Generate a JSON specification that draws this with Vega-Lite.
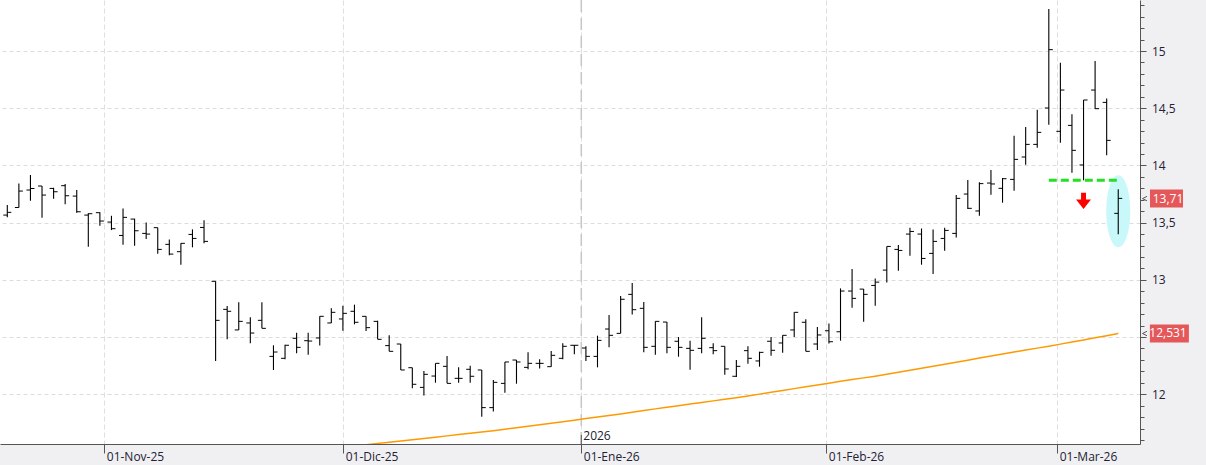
{
  "$schema": "https://vega.github.io/schema/vega-lite/v6.json",
  "width": 1140,
  "height": 444,
  "autosize": "none",
  "padding": {"left": 0, "top": 0, "right": 66, "bottom": 21},
  "background": "#f0f0f2",
  "config": {"view": {"stroke": null, "fill": "#ffffff"}, "font": "Open Sans"},
  "resolve": {"axis": {"y": "independent"}},
  "datasets": {
    "bars": [
      {"i":0,"open":13.566,"high":13.654,"low":13.546,"close":13.590},
      {"i":1,"open":13.633,"high":13.843,"low":13.633,"close":13.776},
      {"i":2,"open":13.785,"high":13.916,"low":13.692,"close":13.799},
      {"i":3,"open":13.820,"high":13.820,"low":13.543,"close":13.741},
      {"i":4,"open":13.799,"high":13.805,"low":13.709,"close":13.770},
      {"i":5,"open":13.823,"high":13.837,"low":13.660,"close":13.735},
      {"i":6,"open":13.732,"high":13.785,"low":13.587,"close":13.595},
      {"i":7,"open":13.566,"high":13.581,"low":13.289,"close":13.578},
      {"i":8,"open":13.587,"high":13.590,"low":13.473,"close":13.514},
      {"i":9,"open":13.505,"high":13.560,"low":13.435,"close":13.447},
      {"i":10,"open":13.388,"high":13.624,"low":13.307,"close":13.546},
      {"i":11,"open":13.531,"high":13.534,"low":13.298,"close":13.429},
      {"i":12,"open":13.406,"high":13.502,"low":13.356,"close":13.400},
      {"i":13,"open":13.456,"high":13.456,"low":13.228,"close":13.266},
      {"i":14,"open":13.310,"high":13.353,"low":13.214,"close":13.225},
      {"i":15,"open":13.246,"high":13.319,"low":13.132,"close":13.319},
      {"i":16,"open":13.397,"high":13.441,"low":13.284,"close":13.362},
      {"i":17,"open":13.458,"high":13.520,"low":13.319,"close":13.336},
      {"i":18,"open":12.987,"high":12.987,"low":12.291,"close":12.646},
      {"i":19,"open":12.742,"high":12.771,"low":12.480,"close":12.725},
      {"i":20,"open":12.562,"high":12.803,"low":12.562,"close":12.637},
      {"i":21,"open":12.623,"high":12.672,"low":12.445,"close":12.535},
      {"i":22,"open":12.646,"high":12.803,"low":12.576,"close":12.576},
      {"i":23,"open":12.331,"high":12.428,"low":12.212,"close":12.369},
      {"i":24,"open":12.314,"high":12.433,"low":12.305,"close":12.428},
      {"i":25,"open":12.489,"high":12.538,"low":12.358,"close":12.410},
      {"i":26,"open":12.468,"high":12.538,"low":12.346,"close":12.465},
      {"i":27,"open":12.492,"high":12.681,"low":12.425,"close":12.681},
      {"i":28,"open":12.623,"high":12.751,"low":12.623,"close":12.716},
      {"i":29,"open":12.658,"high":12.774,"low":12.556,"close":12.707},
      {"i":30,"open":12.725,"high":12.783,"low":12.611,"close":12.629},
      {"i":31,"open":12.681,"high":12.681,"low":12.553,"close":12.582},
      {"i":32,"open":12.637,"high":12.643,"low":12.480,"close":12.480},
      {"i":33,"open":12.425,"high":12.515,"low":12.375,"close":12.375},
      {"i":34,"open":12.439,"high":12.439,"low":12.212,"close":12.212},
      {"i":35,"open":12.232,"high":12.232,"low":12.052,"close":12.087},
      {"i":36,"open":12.060,"high":12.203,"low":11.990,"close":12.174},
      {"i":37,"open":12.159,"high":12.270,"low":12.101,"close":12.270},
      {"i":38,"open":12.244,"high":12.334,"low":12.095,"close":12.095},
      {"i":39,"open":12.139,"high":12.235,"low":12.101,"close":12.139},
      {"i":40,"open":12.218,"high":12.250,"low":12.101,"close":12.157},
      {"i":41,"open":12.212,"high":12.212,"low":11.804,"close":11.883},
      {"i":42,"open":11.883,"high":12.124,"low":11.848,"close":12.104},
      {"i":43,"open":12.095,"high":12.282,"low":12.014,"close":12.282},
      {"i":44,"open":12.299,"high":12.299,"low":12.092,"close":12.282},
      {"i":45,"open":12.235,"high":12.366,"low":12.218,"close":12.270},
      {"i":46,"open":12.270,"high":12.305,"low":12.224,"close":12.270},
      {"i":47,"open":12.241,"high":12.378,"low":12.241,"close":12.340},
      {"i":48,"open":12.314,"high":12.445,"low":12.305,"close":12.419},
      {"i":49,"open":12.428,"high":12.430,"low":12.349,"close":12.428},
      {"i":50,"open":12.404,"high":12.419,"low":12.291,"close":12.331},
      {"i":51,"open":12.331,"high":12.512,"low":12.235,"close":12.471},
      {"i":52,"open":12.570,"high":12.693,"low":12.410,"close":12.515},
      {"i":53,"open":12.532,"high":12.859,"low":12.532,"close":12.830},
      {"i":54,"open":12.873,"high":12.972,"low":12.698,"close":12.739},
      {"i":55,"open":12.751,"high":12.806,"low":12.366,"close":12.410},
      {"i":56,"open":12.419,"high":12.637,"low":12.346,"close":12.637},
      {"i":57,"open":12.631,"high":12.631,"low":12.358,"close":12.410},
      {"i":58,"open":12.463,"high":12.500,"low":12.328,"close":12.410},
      {"i":59,"open":12.401,"high":12.468,"low":12.215,"close":12.384},
      {"i":60,"open":12.401,"high":12.672,"low":12.358,"close":12.489},
      {"i":61,"open":12.407,"high":12.445,"low":12.349,"close":12.381},
      {"i":62,"open":12.419,"high":12.419,"low":12.171,"close":12.221},
      {"i":63,"open":12.157,"high":12.299,"low":12.151,"close":12.244},
      {"i":64,"open":12.381,"high":12.419,"low":12.267,"close":12.314},
      {"i":65,"open":12.291,"high":12.372,"low":12.241,"close":12.366},
      {"i":66,"open":12.463,"high":12.500,"low":12.337,"close":12.384},
      {"i":67,"open":12.448,"high":12.515,"low":12.363,"close":12.515},
      {"i":68,"open":12.562,"high":12.716,"low":12.500,"close":12.716},
      {"i":69,"open":12.629,"high":12.655,"low":12.375,"close":12.375},
      {"i":70,"open":12.439,"high":12.588,"low":12.387,"close":12.518},
      {"i":71,"open":12.555,"high":12.619,"low":12.444,"close":12.459},
      {"i":72,"open":12.546,"high":12.925,"low":12.468,"close":12.902},
      {"i":73,"open":12.902,"high":13.094,"low":12.756,"close":12.838},
      {"i":74,"open":12.919,"high":12.919,"low":12.634,"close":12.873},
      {"i":75,"open":12.951,"high":13.012,"low":12.773,"close":12.980},
      {"i":76,"open":13.085,"high":13.292,"low":12.977,"close":13.292},
      {"i":77,"open":13.266,"high":13.304,"low":13.079,"close":13.257},
      {"i":78,"open":13.400,"high":13.455,"low":13.211,"close":13.423},
      {"i":79,"open":13.400,"high":13.449,"low":13.132,"close":13.187},
      {"i":80,"open":13.231,"high":13.441,"low":13.050,"close":13.336},
      {"i":81,"open":13.362,"high":13.455,"low":13.254,"close":13.432},
      {"i":82,"open":13.406,"high":13.741,"low":13.371,"close":13.712},
      {"i":83,"open":13.750,"high":13.873,"low":13.619,"close":13.625},
      {"i":84,"open":13.602,"high":13.852,"low":13.561,"close":13.841},
      {"i":85,"open":13.846,"high":13.960,"low":13.744,"close":13.838},
      {"i":86,"open":13.800,"high":13.890,"low":13.674,"close":13.884},
      {"i":87,"open":13.878,"high":14.260,"low":13.779,"close":14.053},
      {"i":88,"open":14.074,"high":14.336,"low":14.007,"close":14.184},
      {"i":89,"open":14.184,"high":14.487,"low":14.155,"close":14.289},
      {"i":90,"open":14.502,"high":15.367,"low":14.356,"close":15.012},
      {"i":91,"open":14.298,"high":14.898,"low":14.199,"close":14.659},
      {"i":92,"open":14.350,"high":14.447,"low":13.937,"close":14.132},
      {"i":93,"open":14.004,"high":14.572,"low":13.870,"close":14.572},
      {"i":94,"open":14.659,"high":14.913,"low":14.493,"close":14.496},
      {"i":95,"open":14.551,"high":14.586,"low":14.088,"close":14.219},
      {"i":96,"open":13.581,"high":13.791,"low":13.398,"close":13.712}
    ],
    "ma": [
      {"i":30,"ma":11.549},{"i":31,"ma":11.559},{"i":32,"ma":11.570},{"i":33,"ma":11.581},
      {"i":34,"ma":11.592},{"i":35,"ma":11.603},{"i":36,"ma":11.614},{"i":37,"ma":11.625},
      {"i":38,"ma":11.636},{"i":39,"ma":11.648},{"i":40,"ma":11.659},{"i":41,"ma":11.670},
      {"i":42,"ma":11.681},{"i":43,"ma":11.694},{"i":44,"ma":11.707},{"i":45,"ma":11.720},
      {"i":46,"ma":11.734},{"i":47,"ma":11.747},{"i":48,"ma":11.760},{"i":49,"ma":11.773},
      {"i":50,"ma":11.787},{"i":51,"ma":11.800},{"i":52,"ma":11.814},{"i":53,"ma":11.828},
      {"i":54,"ma":11.843},{"i":55,"ma":11.857},{"i":56,"ma":11.872},{"i":57,"ma":11.886},
      {"i":58,"ma":11.900},{"i":59,"ma":11.914},{"i":60,"ma":11.928},{"i":61,"ma":11.942},
      {"i":62,"ma":11.956},{"i":63,"ma":11.970},{"i":64,"ma":11.985},{"i":65,"ma":12.001},
      {"i":66,"ma":12.017},{"i":67,"ma":12.033},{"i":68,"ma":12.049},{"i":69,"ma":12.065},
      {"i":70,"ma":12.081},{"i":71,"ma":12.097},{"i":72,"ma":12.113},{"i":73,"ma":12.128},
      {"i":74,"ma":12.143},{"i":75,"ma":12.158},{"i":76,"ma":12.175},{"i":77,"ma":12.192},
      {"i":78,"ma":12.210},{"i":79,"ma":12.227},{"i":80,"ma":12.244},{"i":81,"ma":12.262},
      {"i":82,"ma":12.280},{"i":83,"ma":12.298},{"i":84,"ma":12.316},{"i":85,"ma":12.334},
      {"i":86,"ma":12.352},{"i":87,"ma":12.369},{"i":88,"ma":12.386},{"i":89,"ma":12.403},
      {"i":90,"ma":12.420},{"i":91,"ma":12.438},{"i":92,"ma":12.456},{"i":93,"ma":12.475},
      {"i":94,"ma":12.494},{"i":95,"ma":12.512},{"i":96,"ma":12.531}
    ],
    "highlight": [{"i": 96, "v": 13.6}],
    "signal": [{"i": 93, "v": 13.69}],
    "level": [{"i_start": 90, "i_end": 96, "v": 13.87}],
    "tags": [{"v": 13.71, "label": "13,71"}, {"v": 12.531, "label": "12,531"}],
    "year": [{"i": 49.6, "label": "2026"}]
  },
  "layer": [
    {
      "data": {"name": "year"},
      "mark": {"type": "rule", "color": "#c6c6c6", "strokeWidth": 1.5, "strokeDash": [12, 6]},
      "encoding": {
        "x": {
          "field": "i", "type": "quantitative",
          "scale": {"domain": [-0.631, 97.88], "nice": false, "zero": false},
          "axis": {
            "orient": "bottom", "title": null,
            "values": [8.38, 29.03, 49.6, 70.77, 90.73],
            "labelExpr": "datum.value < 20 ? '01-Nov-25' : datum.value < 40 ? '01-Dic-25' : datum.value < 60 ? '01-Ene-26' : datum.value < 80 ? '01-Feb-26' : '01-Mar-26'",
            "grid": true, "gridColor": "#dedede", "gridDash": [5, 3],
            "tickSize": 9, "tickColor": "#555555", "domainColor": "#555555",
            "labelAlign": "left", "labelBaseline": "alphabetic", "labelPadding": 7.5, "labelOffset": 2,
            "labelFont": "Open Sans", "labelFontSize": 12, "labelColor": "#222233",
            "labelOverlap": false, "labelBound": false, "labelFlush": false
          }
        },
        "y": {
          "datum": 11.565, "type": "quantitative",
          "scale": {"domain": [11.565, 15.446], "nice": false, "zero": false},
          "axis": {
            "orient": "right", "title": null,
            "values": [12, 12.5, 13, 13.5, 14, 14.5, 15],
            "labelExpr": "datum.value == 12.5 ? '' : replace(format(datum.value, '~g'), '.', ',')",
            "grid": true, "gridColor": "#dcdcdc", "gridDash": [4, 3],
            "tickSize": 6, "tickColor": "#555555", "domainColor": "#555555",
            "labelAlign": "left", "labelBaseline": "middle", "labelPadding": 5.5,
            "labelFont": "Open Sans", "labelFontSize": 12, "labelColor": "#222233",
            "labelOverlap": false, "labelBound": false, "labelFlush": false
          }
        },
        "y2": {"datum": 15.446}
      }
    },
    {
      "data": {"name": "highlight"},
      "mark": {"type": "point", "shape": "M0,-1C0.1841,-1 0.3333,-0.5523 0.3333,0C0.3333,0.5523 0.1841,1 0,1C-0.1841,1 -0.3333,0.5523 -0.3333,0C-0.3333,-0.5523 -0.1841,-1 0,-1Z", "filled": true, "fill": "#c8f8fa", "opacity": 1, "size": 5184},
      "encoding": {
        "x": {"field": "i", "type": "quantitative"},
        "y": {
          "field": "v", "type": "quantitative",
          "axis": {
            "orient": "right", "title": null,
            "values": [11.6, 11.7, 11.8, 11.9, 12, 12.1, 12.2, 12.3, 12.4, 12.5, 12.6, 12.7, 12.8, 12.9, 13, 13.1, 13.2, 13.3, 13.4, 13.5, 13.6, 13.7, 13.8, 13.9, 14, 14.1, 14.2, 14.3, 14.4, 14.5, 14.6, 14.7, 14.8, 14.9, 15, 15.1, 15.2, 15.3, 15.4],
            "labels": false, "grid": false, "domain": false,
            "tickSize": 4, "tickColor": "#555555"
          }
        }
      }
    },
    {
      "data": {"name": "ma"},
      "mark": {"type": "line", "color": "#ff9900", "strokeWidth": 1.5, "clip": true},
      "encoding": {
        "x": {"field": "i", "type": "quantitative"},
        "y": {"field": "ma", "type": "quantitative", "axis": null}
      }
    },
    {
      "data": {"name": "bars"},
      "mark": {"type": "rule", "color": "#000000", "strokeWidth": 1.1},
      "encoding": {
        "x": {"field": "i", "type": "quantitative"},
        "y": {"field": "low", "type": "quantitative", "axis": null},
        "y2": {"field": "high"}
      }
    },
    {
      "data": {"name": "bars"},
      "mark": {"type": "tick", "orient": "horizontal", "color": "#000000", "size": 4, "thickness": 1, "xOffset": -2, "opacity": 1},
      "encoding": {
        "x": {"field": "i", "type": "quantitative"},
        "y": {"field": "open", "type": "quantitative", "axis": null}
      }
    },
    {
      "data": {"name": "bars"},
      "mark": {"type": "tick", "orient": "horizontal", "color": "#000000", "size": 4, "thickness": 1, "xOffset": 2, "opacity": 1},
      "encoding": {
        "x": {"field": "i", "type": "quantitative"},
        "y": {"field": "close", "type": "quantitative", "axis": null}
      }
    },
    {
      "data": {"name": "level"},
      "mark": {"type": "rule", "color": "#22e022", "strokeWidth": 3, "strokeDash": [8, 4]},
      "encoding": {
        "x": {"field": "i_start", "type": "quantitative"},
        "x2": {"field": "i_end"},
        "y": {"field": "v", "type": "quantitative", "axis": null}
      }
    },
    {
      "data": {"name": "signal"},
      "mark": {"type": "point", "shape": "M-0.3,-1L0.3,-1L0.3,-0.18L0.91,-0.18L0,1L-0.91,-0.18L-0.3,-0.18Z", "filled": true, "fill": "#ff0000", "opacity": 1, "size": 269},
      "encoding": {
        "x": {"field": "i", "type": "quantitative"},
        "y": {"field": "v", "type": "quantitative", "axis": null}
      }
    },
    {
      "data": {"name": "year"},
      "mark": {"type": "rule", "color": "#555555", "strokeWidth": 1},
      "encoding": {
        "x": {"field": "i", "type": "quantitative"},
        "y": {"datum": 11.565, "type": "quantitative", "axis": null},
        "y2": {"datum": 11.644}
      }
    },
    {
      "data": {"name": "year"},
      "mark": {"type": "text", "align": "left", "baseline": "alphabetic", "dx": 2, "dy": -4, "fontSize": 12, "font": "Open Sans", "color": "#222233"},
      "encoding": {
        "x": {"field": "i", "type": "quantitative"},
        "y": {"datum": 11.565, "type": "quantitative", "axis": null},
        "text": {"field": "label"}
      }
    },
    {
      "data": {"name": "tags"},
      "transform": [{"filter": "datum.label == '13,71'"}],
      "mark": {"type": "point", "shape": "M-1,-0.5455L1,-0.5455L1,0.5455L-1,0.5455Z", "filled": true, "fill": "#e5585a", "opacity": 1, "size": 1089, "clip": false},
      "encoding": {
        "x": {"datum": 100.17, "type": "quantitative"},
        "y": {"field": "v", "type": "quantitative", "axis": null}
      }
    },
    {
      "data": {"name": "tags"},
      "transform": [{"filter": "datum.label == '12,531'"}],
      "mark": {"type": "point", "shape": "M-1,-0.4615L1,-0.4615L1,0.4615L-1,0.4615Z", "filled": true, "fill": "#e5585a", "opacity": 1, "size": 1521, "clip": false},
      "encoding": {
        "x": {"datum": 100.42, "type": "quantitative"},
        "y": {"field": "v", "type": "quantitative", "axis": null}
      }
    },
    {
      "data": {"name": "tags"},
      "mark": {"type": "text", "align": "center", "baseline": "middle", "fontSize": 12, "font": "Open Sans", "color": "#ffffff", "clip": false},
      "encoding": {
        "x": {"datum": 100.3, "type": "quantitative"},
        "y": {"field": "v", "type": "quantitative", "axis": null},
        "text": {"field": "label"}
      }
    },
    {
      "data": {"name": "tags"},
      "mark": {"type": "point", "shape": "M1,-1L-1,0L1,1", "filled": false, "stroke": "#555555", "strokeWidth": 1, "opacity": 1, "size": 20, "clip": false},
      "encoding": {
        "x": {"datum": 98.29, "type": "quantitative"},
        "y": {"field": "v", "type": "quantitative", "axis": null}
      }
    }
  ]
}
